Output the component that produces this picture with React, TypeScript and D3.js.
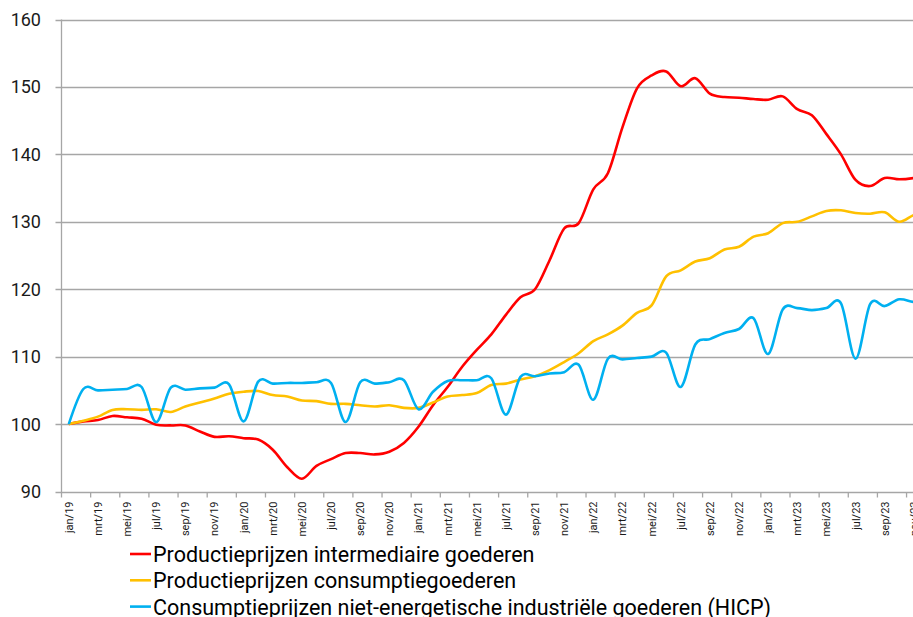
import React, { useEffect, useRef } from "react";
import {
  select,
  scaleBand,
  scaleLinear,
  line,
  curveCardinal,
  range
} from "d3";

// categories: jan/19 .. jan/24
const monthNames = ["jan", "feb", "mrt", "apr", "mei", "jun", "jul", "aug", "sep", "okt", "nov", "dec"];
const months: string[] = [];
for (let y = 19; y <= 23; y++) monthNames.forEach(m => months.push(`${m}/${y}`));
months.push("jan/24");

const yTicks = [90, 100, 110, 120, 130, 140, 150, 160];

// Productieprijzen intermediaire goederen
const intermediair = [
  100, 100.4, 100.6, 101.2, 101.0, 100.8, 99.9, 99.8, 99.8, 98.9, 98.1, 98.2,
  97.9, 97.7, 96.2, 93.6, 91.9, 93.8, 94.8, 95.7, 95.7, 95.5, 95.9, 97.2,
  99.6, 102.8, 105.5, 108.5, 111.0, 113.3, 116.2, 118.8, 120.0, 124.3, 129.0, 129.8,
  134.8, 137.2, 144.0, 149.8, 151.7, 152.3, 150.1, 151.3, 149.0, 148.5, 148.4, 148.2,
  148.1, 148.6, 146.7, 145.8, 143.0, 140.0, 136.2, 135.3, 136.5, 136.3, 136.5, 137.0
];

// Productieprijzen consumptiegoederen
const consumptie = [
  100, 100.5, 101.1, 102.1, 102.2, 102.1, 102.2, 101.8, 102.6, 103.2, 103.8, 104.5,
  104.8, 104.9, 104.3, 104.1, 103.5, 103.4, 103.0, 103.0, 102.8, 102.6, 102.8, 102.4,
  102.4, 103.2, 104.1, 104.3, 104.6, 105.8, 106.0, 106.6, 107.1, 108.0, 109.2, 110.5,
  112.3, 113.3, 114.6, 116.5, 117.6, 121.9, 122.8, 124.1, 124.6, 125.9, 126.3, 127.8,
  128.3, 129.8, 130.0, 130.8, 131.6, 131.7, 131.3, 131.2, 131.4, 130.0, 131.0, 131.5
];

// Consumptieprijzen niet-energetische industriële goederen (HICP)
const hicp = [
  100, 105.2, 105.0, 105.1, 105.2, 105.5, 100.3, 105.4, 105.1, 105.3, 105.4, 105.9,
  100.4, 106.3, 106.0, 106.1, 106.1, 106.2, 106.1, 100.3, 106.2, 106.0, 106.2, 106.5,
  102.2, 104.8, 106.4, 106.5, 106.5, 106.8, 101.4, 107.0, 107.1, 107.5, 107.7, 108.8,
  103.6, 109.7, 109.6, 109.8, 110.0, 110.6, 105.5, 111.8, 112.6, 113.5, 114.1, 115.7,
  110.4, 117.0, 117.2, 116.9, 117.2, 117.9, 109.7, 117.8, 117.5, 118.5, 118.1, 118.0
];

const seriesNames = [
  "Productieprijzen intermediaire goederen",
  "Productieprijzen consumptiegoederen",
  "Consumptieprijzen niet-energetische industriële goederen (HICP)"
];
const seriesColors = ["#ff0000", "#ffc000", "#00b0f0"];

const W = 913;
const H = 617;

const App = () => {
  const svgRef = useRef<SVGSVGElement>(null);

  useEffect(() => {
    const svg = select(svgRef.current);
    svg.selectAll("*").remove();

    const left = 61.5;
    const step = 14.57;
    const xScale = scaleBand<string>()
      .domain(months)
      .range([left, left + months.length * step])
      .paddingInner(0)
      .paddingOuter(0);
    const yScale = scaleLinear().domain([90, 160]).range([491.5, 19.5]);

    const font = "Roboto, 'Liberation Sans', Arial, sans-serif";

    // gridlines
    svg.append("g")
      .selectAll("line")
      .data(yTicks.slice(1))
      .join("line")
      .attr("x1", left - 6)
      .attr("x2", W)
      .attr("y1", d => Math.round(yScale(d)) + 0.5)
      .attr("y2", d => Math.round(yScale(d)) + 0.5)
      .attr("stroke", "#a6a6a6")
      .attr("stroke-width", 1.3);

    // y labels
    svg.append("g")
      .selectAll("text")
      .data(yTicks)
      .join("text")
      .attr("x", 41)
      .attr("y", d => yScale(d) + 6.5)
      .attr("text-anchor", "end")
      .attr("font-family", font)
      .attr("font-size", 18)
      .attr("fill", "#1a1a1a")
      .text(d => d);

    // axes
    const baseY = Math.round(yScale(90)) + 0.5;
    svg.append("line")
      .attr("x1", left).attr("x2", left)
      .attr("y1", yScale(160)).attr("y2", baseY)
      .attr("stroke", "#a6a6a6").attr("stroke-width", 1.3);
    svg.append("line")
      .attr("x1", left - 6).attr("x2", W)
      .attr("y1", baseY).attr("y2", baseY)
      .attr("stroke", "#a6a6a6").attr("stroke-width", 1.3);

    // x ticks every 2 months, at category boundaries
    const tickIdx = range(0, months.length + 1, 2);
    svg.append("g")
      .selectAll("line")
      .data(tickIdx)
      .join("line")
      .attr("x1", i => left + i * step)
      .attr("x2", i => left + i * step)
      .attr("y1", baseY)
      .attr("y2", baseY + 5)
      .attr("stroke", "#a6a6a6")
      .attr("stroke-width", 1.3);

    svg.append("g")
      .selectAll("text")
      .data(months.filter((_, i) => i % 2 === 0))
      .join("text")
      .attr("transform", m => `translate(${xScale(m)! + xScale.bandwidth() / 2 + 4},${baseY + 9}) rotate(-90)`)
      .attr("text-anchor", "end")
      .attr("font-family", font)
      .attr("font-size", 11)
      .attr("fill", "#1a1a1a")
      .text(m => m);

    // lines
    const lineGen = line<number>()
      .x((_, i) => xScale(months[i])! + xScale.bandwidth() / 2)
      .y(d => yScale(d))
      .curve(curveCardinal.tension(0));

    [intermediair, consumptie, hicp].forEach((values, k) => {
      svg.append("path")
        .datum(values)
        .attr("fill", "none")
        .attr("stroke", seriesColors[k])
        .attr("stroke-width", 2.6)
        .attr("stroke-linejoin", "round")
        .attr("d", lineGen);
    });

    // legend
    const legend = svg.append("g");
    seriesNames.forEach((name, k) => {
      const y = 554 + k * 26.3;
      legend.append("line")
        .attr("x1", 130).attr("x2", 151)
        .attr("y1", y).attr("y2", y)
        .attr("stroke", seriesColors[k])
        .attr("stroke-width", 2.6);
      legend.append("text")
        .attr("x", 153)
        .attr("y", y + 8)
        .attr("font-family", font)
        .attr("font-size", 21.5)
        .attr("fill", "#000")
        .text(name);
    });
  }, []);

  return (
    <svg
      ref={svgRef}
      width={W}
      height={H}
      style={{ position: "absolute", left: 0, top: 0, background: "#fff", overflow: "hidden" }}
    />
  );
};

export default App;
